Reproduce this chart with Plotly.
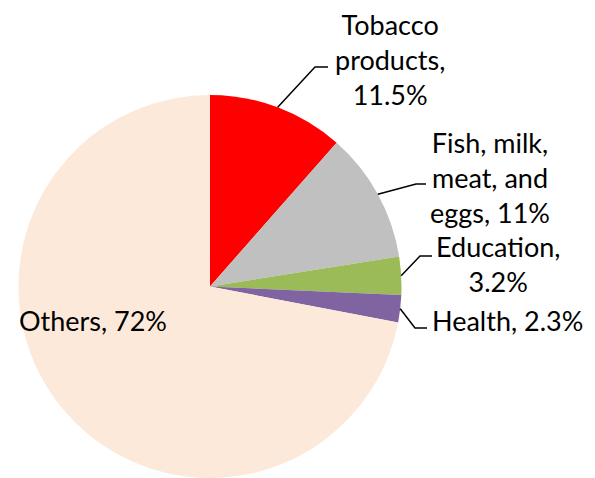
import math
import plotly.graph_objects as go

# Share of spending by category (%)
categories = ["Tobacco products", "Fish, milk, meat, and eggs", "Education", "Health", "Others"]
shares = [11.5, 11, 3.2, 2.3, 72]
label_texts = ["Tobacco<br>products,<br>11.5%", "Fish, milk,<br>meat, and<br>eggs, 11%",
               "Education,<br>3.2%", "Health, 2.3%", "Others, 72%"]
colors = ["#FF0000", "#C0C0C0", "#9BBB59", "#8064A2", "#FDE9D9"]

W, H = 595, 478
FONT = "Lato"
FS = 27

# Pie geometry (pixels): centre and radius derived from the domain below
dom_x = [18 / W, 402 / W]
dom_y = [0.0, 383 / H]
radius = (dom_y[1] - dom_y[0]) * H / 2
cx = (dom_x[0] + dom_x[1]) / 2 * W
cy = H - (dom_y[0] + dom_y[1]) / 2 * H

fig = go.Figure(go.Pie(
    labels=categories, values=shares, sort=False, direction="clockwise", rotation=0,
    marker=dict(colors=colors, line=dict(width=0)),
    textinfo="none", hoverinfo="label+percent",
    domain=dict(x=dom_x, y=dom_y), showlegend=False,
))

# Label anchors (pixels from top-left) and leader-line knees for outside labels
label_pos = [(390, 59, "center"), (490, 177, "center"), (498, 264, "center"), (430, 320, "left"), (93, 320, "center")]
knees = [(315, 67, 328), (416, 184, 426), (420, 256, 432), (415, 328, 427), None]

def px_to_paper(x, y):
    return x / W, 1 - y / H

annotations = []
shapes = []
total = sum(shares)
cum = 0.0
for i, v in enumerate(shares):
    mid = (cum + v / 2) / total * 2 * math.pi
    cum += v
    sx = cx + radius * math.sin(mid)
    sy = cy - radius * math.cos(mid)
    lx, ly, anchor = label_pos[i]
    ax, ay = px_to_paper(lx, ly)
    annotations.append(dict(
        x=ax, y=ay, xref="paper", yref="paper", text=label_texts[i], showarrow=False,
        xanchor=anchor, yanchor="middle", align="center",
        font=dict(family=FONT, size=FS, color="#000000"),
    ))
    if knees[i] is not None:
        kx, ky, ex = knees[i]
        p0 = px_to_paper(sx, sy)
        p1 = px_to_paper(kx, ky)
        p2 = px_to_paper(ex, ky)
        shapes.append(dict(
            type="path", xref="paper", yref="paper",
            path=f"M {p0[0]},{p0[1]} L {p1[0]},{p1[1]} L {p2[0]},{p2[1]}",
            line=dict(color="#000000", width=1.5),
        ))

fig.update_layout(
    width=W, height=H, margin=dict(l=0, r=0, t=0, b=0),
    paper_bgcolor="#FFFFFF", plot_bgcolor="#FFFFFF",
    annotations=annotations, shapes=shapes,
)

fig.write_html("out.html")
